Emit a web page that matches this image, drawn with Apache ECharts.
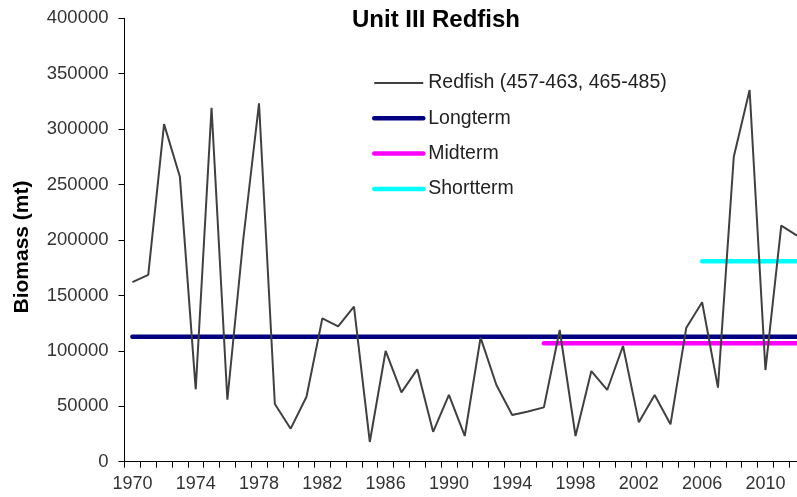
<!DOCTYPE html>
<html lang="en">
<head>
    <meta charset="UTF-8">
    <title>Unit III Redfish</title>
    <script type="text/javascript" src="https://cdn.jsdelivr.net/npm/echarts@6/dist/echarts.min.js"></script>
    <style>
        html, body { margin: 0; padding: 0; background: #fff; overflow: hidden; }
        /* the plot runs past the right edge of the window, as in the original */
        #chart { width: 805px; height: 497px; }
    </style>
</head>
<body>
<div id="chart"></div>
<script>
    // years on the category axis
    var years = ['1970','1971','1972','1973','1974','1975','1976','1977','1978','1979',
        '1980','1981','1982','1983','1984','1985','1986','1987','1988','1989',
        '1990','1991','1992','1993','1994','1995','1996','1997','1998','1999',
        '2000','2001','2002','2003','2004','2005','2006','2007','2008','2009',
        '2010','2011','2012'];

    // biomass (mt)
    var redfish = [162000, 168500, 304500, 257000, 65300, 319300, 55900, 200000, 323300, 52000,
        29800, 58600, 129300, 122100, 139800, 17800, 99900, 62600, 83300, 27000,
        60200, 23200, 111900, 69200, 42100, 45300, 49000, 118800, 23200, 81800,
        64700, 104400, 35500, 60200, 33700, 120900, 143800, 66800, 275100, 335300,
        82700, 212900, 203900];

    // reference levels: [from year, value], [to year, value]
    var longterm = [['1970', 112800], ['2012', 112800]];
    var midterm = [['1996', 106800], ['2012', 106800]];
    var shortterm = [['2006', 180800], ['2012', 180800]];

    var font = 'Liberation Sans, Arial, sans-serif';

    var myChart = echarts.init(document.getElementById('chart'));
    var option = {
        backgroundColor: '#fff',
        animation: false,
        title: {
            text: 'Unit III Redfish',
            left: 352,
            top: 8,
            padding: 0,
            textStyle: {fontFamily: font, fontSize: 24, fontWeight: 'bold', color: '#000'}
        },
        legend: {
            orient: 'vertical',
            left: 372,
            top: 73,
            padding: 0,
            itemWidth: 49,
            itemHeight: 14,
            itemGap: 15.3,
            itemStyle: {opacity: 0},
            textStyle: {fontFamily: font, fontSize: 19.5, color: '#222'},
            data: [
                {name: 'Redfish (457-463, 465-485)', lineStyle: {width: 2}},
                {name: 'Longterm', lineStyle: {width: 4.5}},
                {name: 'Midterm', lineStyle: {width: 4.5}},
                {name: 'Shortterm', lineStyle: {width: 4.5}}
            ]
        },
        graphic: [{
            type: 'text',
            x: 22,
            y: 247,
            rotation: Math.PI / 2,
            style: {
                text: 'Biomass (mt)',
                font: 'bold 21px Liberation Sans, Arial, sans-serif',
                fill: '#000',
                align: 'center',
                verticalAlign: 'middle'
            }
        }],
        grid: {
            left: 124.5,
            right: 0,
            top: 18.3,
            bottom: 35.3
        },
        xAxis: {
            type: 'category',
            data: years,
            boundaryGap: true,
            axisLine: {lineStyle: {color: '#000', width: 1}},
            axisTick: {show: true, interval: 0, length: 6, lineStyle: {color: '#000'}},
            axisLabel: {
                interval: 3,
                margin: 13,
                fontFamily: font,
                fontSize: 18,
                color: '#333'
            },
            splitLine: {show: false}
        },
        yAxis: {
            type: 'value',
            min: 0,
            max: 400000,
            interval: 50000,
            axisLine: {show: true, lineStyle: {color: '#000', width: 1}},
            axisTick: {show: true, length: 6, lineStyle: {color: '#000'}},
            axisLabel: {
                margin: 16,
                fontFamily: font,
                fontSize: 18.5,
                color: '#333',
                formatter: function (v) { return String(v); }
            },
            splitLine: {show: false}
        },
        series: [
            {
                name: 'Redfish (457-463, 465-485)',
                type: 'line',
                data: redfish,
                symbol: 'none',
                itemStyle: {color: '#404040'},
                lineStyle: {color: '#404040', width: 2},
                z: 5
            },
            {
                name: 'Longterm',
                type: 'line',
                data: longterm,
                symbol: 'none',
                itemStyle: {color: '#000080'},
                lineStyle: {color: '#000080', width: 4.5, cap: 'round'},
                z: 3
            },
            {
                name: 'Midterm',
                type: 'line',
                data: midterm,
                symbol: 'none',
                itemStyle: {color: '#ff00ff'},
                lineStyle: {color: '#ff00ff', width: 4.5, cap: 'round'},
                z: 3
            },
            {
                name: 'Shortterm',
                type: 'line',
                data: shortterm,
                symbol: 'none',
                itemStyle: {color: '#00ffff'},
                lineStyle: {color: '#00ffff', width: 4.5, cap: 'round'},
                z: 3
            }
        ]
    };
    myChart.setOption(option);
    window.onresize = function () {
        myChart.resize();
    };
</script>
</body>
</html>
